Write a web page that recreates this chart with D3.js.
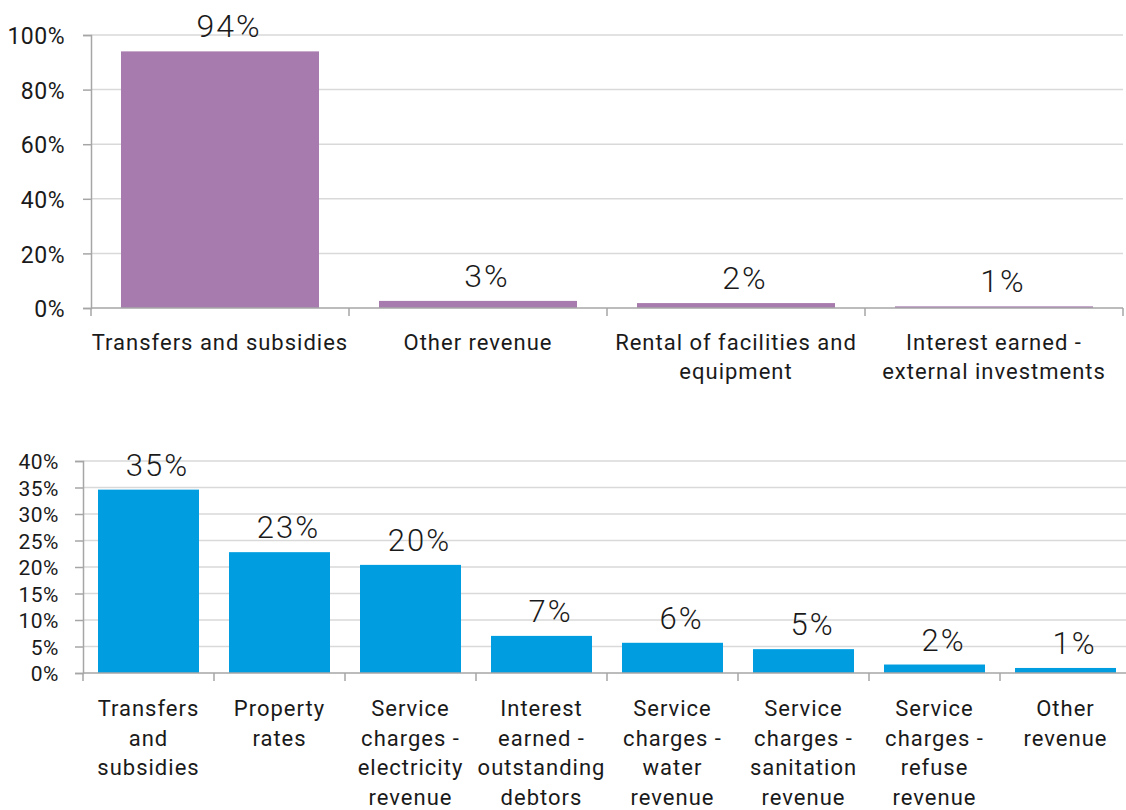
<!DOCTYPE html>
<html><head><meta charset="utf-8">
<script src="https://cdn.jsdelivr.net/npm/d3@7"></script>
<style>
body{margin:0;background:#fff;}
svg text{font-family:Roboto,"Noto Sans",sans-serif;fill:#1a1a1a;}
</style></head>
<body>
<svg id="chart" width="1126" height="810"></svg>
<script>
// ---- Top chart data ----
const topCategories = ["Transfers and subsidies","Other revenue","Rental of facilities and\nequipment","Interest earned -\nexternal investments"];
const topValues = [94.0, 2.6, 1.8, 0.6];
const topTicks = [0,20,40,60,80,100];
// ---- Bottom chart data ----
const botCategories = ["Transfers\nand\nsubsidies","Property\nrates","Service\ncharges -\nelectricity\nrevenue","Interest\nearned -\noutstanding\ndebtors","Service\ncharges -\nwater\nrevenue","Service\ncharges -\nsanitation\nrevenue","Service\ncharges -\nrefuse\nrevenue","Other\nrevenue"];
const botValues = [34.6, 22.8, 20.4, 7.0, 5.7, 4.5, 1.6, 0.95];
const botTicks = [0,5,10,15,20,25,30,35,40];

const svg = d3.select("#chart");

function drawPanel(cfg){
  const g = svg.append("g");
  const x = d3.scaleBand().domain(cfg.cats.map((d,i)=>i)).range([cfg.x0,cfg.x1]).paddingInner(cfg.pad).paddingOuter(cfg.pad/2);
  const y = d3.scaleLinear().domain([0,cfg.max]).range([cfg.y0,cfg.y1]);
  // gridlines
  g.selectAll("line.grid").data(cfg.ticks.filter(t=>t>0)).join("line")
    .attr("x1",cfg.x0).attr("x2",cfg.x1).attr("y1",d=>y(d)).attr("y2",d=>y(d))
    .attr("stroke","#d9d9d9").attr("stroke-width",1.5);
  // bars
  g.selectAll("rect").data(cfg.vals).join("rect")
    .attr("x",(d,i)=>x(i)).attr("width",x.bandwidth())
    .attr("y",d=>y(d)).attr("height",d=>cfg.y0-y(d))
    .attr("fill",cfg.color);
  // y axis
  const yAxis = d3.axisLeft(y).tickValues(cfg.ticks).tickSize(8).tickPadding(cfg.tickPad).tickFormat(d=>d+"%");
  const ya = g.append("g").attr("transform",`translate(${cfg.x0},0)`).call(yAxis);
  ya.select(".domain").attr("stroke","#a6a6a6").attr("stroke-width",1.5);
  ya.selectAll(".tick line").attr("stroke","#a6a6a6").attr("stroke-width",1.5);
  ya.selectAll(".tick text").style("font-size",cfg.yFont+"px").style("letter-spacing","0.5px").attr("fill","#1a1a1a").attr("dy","0.38em");
  // x axis line
  g.append("line").attr("x1",cfg.x0).attr("x2",cfg.x1).attr("y1",cfg.y0).attr("y2",cfg.y0)
    .attr("stroke","#a6a6a6").attr("stroke-width",1.5);
  // category ticks at boundaries
  const step = x.step();
  const bounds = d3.range(cfg.cats.length+1).map(i=>cfg.x0+i*step);
  g.selectAll("line.ctick").data(bounds).join("line")
    .attr("x1",d=>d).attr("x2",d=>d).attr("y1",cfg.y0).attr("y2",cfg.y0+8)
    .attr("stroke","#a6a6a6").attr("stroke-width",1.5);
  // category labels
  cfg.cats.forEach((c,i)=>{
    const t = g.append("text").attr("text-anchor","middle").style("font-size",cfg.catFont+"px").style("letter-spacing","1px");
    c.split("\n").forEach((line,j)=>{
      t.append("tspan").attr("x",x(i)+x.bandwidth()/2).attr("y",cfg.catY+j*cfg.lineH).text(line);
    });
  });
  // value labels
  g.selectAll("text.val").data(cfg.vals).join("text")
    .attr("x",(d,i)=>x(i)+x.bandwidth()/2+9).attr("y",d=>y(d)-14)
    .attr("text-anchor","middle").style("font-size",cfg.valFont+"px")
    .style("font-weight",300).style("letter-spacing","2px")
    .text(d=>Math.round(d)+"%");
}

drawPanel({cats:topCategories, vals:topValues, ticks:topTicks, max:100,
  x0:91, x1:1123, y0:308, y1:35, pad:0.2326, color:"#a87bae",
  yFont:23, tickPad:18, catFont:22, catY:350, lineH:29, valFont:32});

drawPanel({cats:botCategories, vals:botValues, ticks:botTicks, max:40,
  x0:83, x1:1131, y0:673, y1:461, pad:0.229, color:"#009ee0",
  yFont:21, tickPad:16, catFont:22, catY:716, lineH:29.7, valFont:31});
</script>
</body></html>
